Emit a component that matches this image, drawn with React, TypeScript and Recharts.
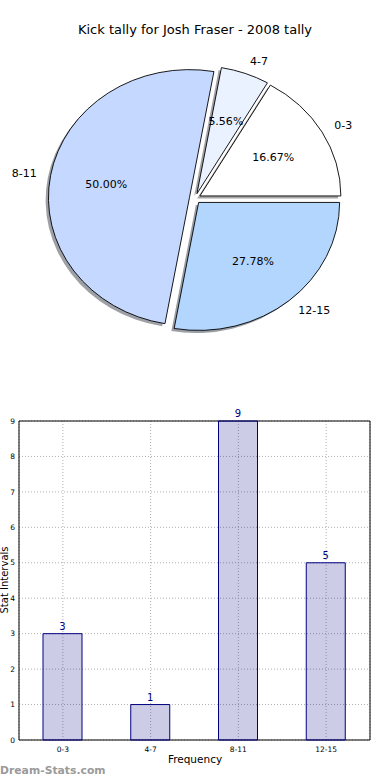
import React from 'react';
import {
  Bar,
  Pie,
  XAxis,
  YAxis,
  Sector,
  BarChart,
  PieChart,
  LabelList,
  CartesianGrid,
  ReferenceArea,
} from 'recharts';

// ----------------------------------------------------------------------

const CATEGORIES = ['0-3', '4-7', '8-11', '12-15'];
const COUNTS = [3, 1, 9, 5];
const Y_TICKS = [0, 1, 2, 3, 4, 5, 6, 7, 8, 9];

const TITLE = 'Kick tally for Josh Fraser - 2008 tally';

const SLICE_COLORS = ['#ffffff', '#eaf1ff', '#c5d8ff', '#b3d6ff'];
const NAVY = '#000080';
const FONT = '"DejaVu Sans", Verdana, sans-serif';

// pie is drawn as an ellipse (matplotlib axes were not square)
const SX = 141 / 128;
const EXPLODE = 0.04;

const pieData = CATEGORIES.map((name, i) => ({ name, value: COUNTS[i] }));
const barData = CATEGORIES.map((name, i) => ({ name, count: COUNTS[i] }));

const darken = (hex: string) => {
  const n = parseInt(hex.slice(1), 16);
  const c = [(n >> 16) & 255, (n >> 8) & 255, n & 255].map(v => Math.round(v * 0.3));
  return `rgb(${c.join(',')})`;
};

const makeShape = (shadow: boolean) => (props: any) => {
  const { cx, cy, midAngle, outerRadius, index } = props;
  const rad = (midAngle * Math.PI) / 180;
  let dx = EXPLODE * outerRadius * SX * Math.cos(rad);
  let dy = -EXPLODE * outerRadius * Math.sin(rad);
  if (shadow) {
    dx -= 2.8;
    dy += 2.6;
  }
  const color = SLICE_COLORS[index % SLICE_COLORS.length];
  return (
    <g transform={`translate(${cx + dx},${cy + dy}) scale(${SX},1) translate(${-cx},${-cy})`}>
      <Sector
        {...props}
        fill={shadow ? darken(color) : color}
        fillOpacity={shadow ? 0.5 : 1}
        stroke={shadow ? 'none' : '#000'}
        strokeWidth={0.9}
        vectorEffect='non-scaling-stroke'
      />
    </g>
  );
};

const renderPieLabel = (props: any) => {
  const { cx, cy, midAngle, outerRadius, percent, name } = props;
  const rad = (midAngle * Math.PI) / 180;
  const cos = Math.cos(rad);
  const sin = Math.sin(rad);
  const ex = cx + EXPLODE * outerRadius * SX * cos;
  const ey = cy - EXPLODE * outerRadius * sin;
  return (
    <g fontFamily={FONT} fontSize={11} fill='#000'>
      <text
        x={ex + 1.1 * outerRadius * SX * cos}
        y={ey - 1.1 * outerRadius * sin}
        textAnchor={cos > 0 ? 'start' : 'end'}
        dominantBaseline='central'
      >
        {name}
      </text>
      <text
        x={ex + 0.6 * outerRadius * SX * cos}
        y={ey - 0.6 * outerRadius * sin}
        textAnchor='middle'
        dominantBaseline='central'
      >
        {(percent * 100).toFixed(2)}%
      </text>
    </g>
  );
};

export default function App() {
  return (
    <div style={{ position: 'absolute', left: 0, top: 0, width: 390, height: 780, background: '#fff', fontFamily: FONT }}>
      <div style={{ position: 'absolute', left: 0, top: 22, width: 390, textAlign: 'center', fontSize: 13, color: '#000' }}>
        {TITLE}
      </div>

      <div style={{ position: 'absolute', left: 0, top: 0 }}>
        <PieChart width={390} height={380} margin={{ top: 0, right: 0, bottom: 0, left: 0 }}>
          <Pie
            data={pieData}
            dataKey='value'
            nameKey='name'
            cx={195}
            cy={198.5}
            outerRadius={128}
            startAngle={0}
            endAngle={360}
            isAnimationActive={false}
            shape={makeShape(true)}
            stroke='none'
          />
          <Pie
            data={pieData}
            dataKey='value'
            nameKey='name'
            cx={195}
            cy={198.5}
            outerRadius={128}
            startAngle={0}
            endAngle={360}
            isAnimationActive={false}
            shape={makeShape(false)}
            label={renderPieLabel}
            labelLine={false}
          />
        </PieChart>
      </div>

      <div style={{ position: 'absolute', left: 0, top: 400 }}>
        <BarChart
          width={390}
          height={380}
          data={barData}
          margin={{ top: 21, right: 20, bottom: 20, left: 0 }}
          barSize={39}
        >
          <CartesianGrid stroke='#b0b0b0' strokeDasharray='1 2' />
          <XAxis
            dataKey='name'
            tick={{ fontSize: 7.5, fill: '#000', fontFamily: FONT }}
            tickLine={false}
            axisLine={false}
            height={20}
            tickMargin={1}
          />
          <YAxis
            domain={[0, 9]}
            ticks={Y_TICKS}
            width={19}
            tick={{ fontSize: 7.5, fill: '#000', fontFamily: FONT }}
            tickLine={false}
            axisLine={false}
            tickMargin={1}
            tickSize={3}
          />
          <Bar
            dataKey='count'
            fill={NAVY}
            fillOpacity={0.2}
            stroke={NAVY}
            strokeWidth={1}
            isAnimationActive={false}
          >
            <LabelList dataKey='count' position='top' offset={4} fill={NAVY} fontSize={10} fontFamily={FONT} />
          </Bar>
          <ReferenceArea y1={0} y2={9} fill='none' stroke='#000' strokeWidth={1} ifOverflow='visible' />
        </BarChart>
      </div>

      <div
        style={{
          position: 'absolute',
          left: 5,
          top: 580,
          transform: 'translate(-50%, -50%) rotate(-90deg)',
          fontSize: 10,
          lineHeight: '10px',
          whiteSpace: 'nowrap',
          color: '#000',
        }}
      >
        Stat Intervals
      </div>
      <div style={{ position: 'absolute', left: 0, top: 753, width: 390, textAlign: 'center', fontSize: 10.5, color: '#000' }}>
        Frequency
      </div>
      <div
        style={{
          position: 'absolute',
          left: 0,
          top: 764,
          fontSize: 10.8,
          fontWeight: 'bold',
          color: '#9a9a9a',
          whiteSpace: 'nowrap',
        }}
      >
        Dream-Stats.com
      </div>
    </div>
  );
}
